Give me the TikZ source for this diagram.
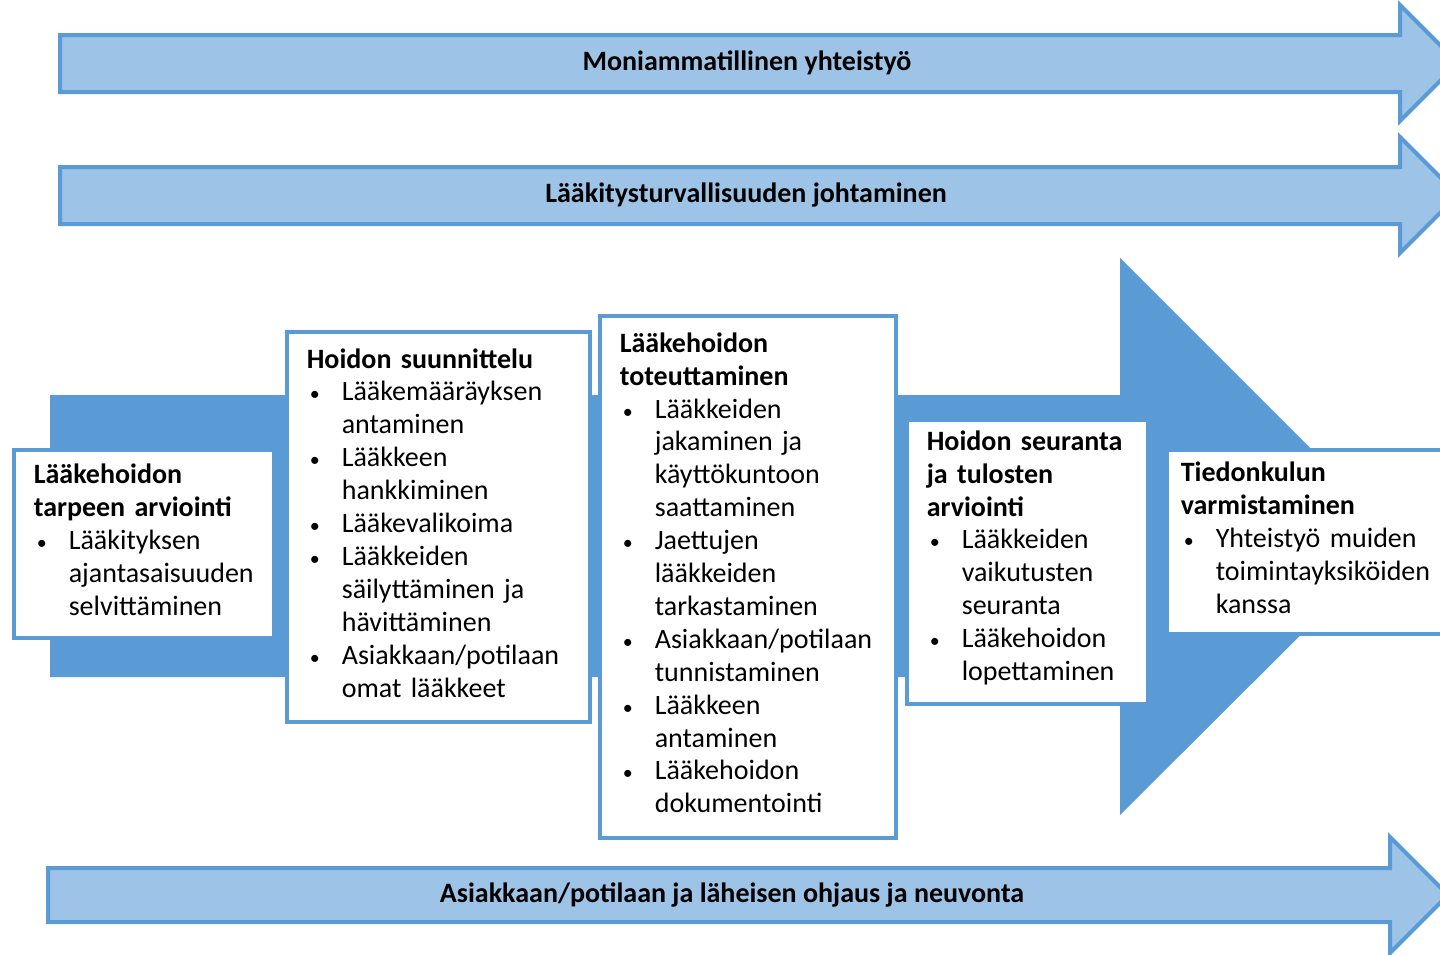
\documentclass[tikz,border=0pt]{standalone}
\usepackage{fontspec}
\setmainfont{Carlito}
\definecolor{darkblue}{HTML}{5B9BD5}
\definecolor{lightblue}{HTML}{9DC3E6}
\newcommand\bitem[1]{\par\hangindent=17.5pt\hangafter=1\noindent\makebox[17.5pt][l]{\hspace{1.5pt}{\fontsize{10}{10}\selectfont\textbullet}}{\let\\\newline #1}\par}
\tikzset{
  thinarrow/.style={fill=lightblue, draw=darkblue, line width=2pt, line join=miter},
  bigarrow/.style={fill=darkblue, draw=none},
  stagebox/.style={draw=darkblue, line width=1.8pt, fill=white, anchor=north west,
    align=left, inner xsep=10pt, inner ysep=0pt,
    font=\fontsize{14}{16.45}\selectfont,
    execute at end node={\par\vspace{4pt}}},
  arrowlabel/.style={font=\fontsize{14}{16.3}\selectfont\bfseries, inner sep=0pt}
}
\begin{document}
\begin{tikzpicture}[x=0.5pt,y=-0.5pt]
\useasboundingbox (0,0) rectangle (1440,954);
\clip (0,0) rectangle (1440,954);
\fill[white] (0,0) rectangle (1440,954);
% top arrows
\draw[thinarrow] (60,35) -- (1400,35) -- (1400,5) -- (1458,63) -- (1400,121) -- (1400,92) -- (60,92) -- cycle;
\node[arrowlabel] (a1) at (747,63) {Moniammatillinen yhteistyö};
\draw[thinarrow] (60,167) -- (1400,167) -- (1400,137) -- (1458,195) -- (1400,253) -- (1400,224) -- (60,224) -- cycle;
\node[arrowlabel] (a2) at (746,195) {Lääkitysturvallisuuden johtaminen};
% bottom arrow
\draw[thinarrow] (48,868) -- (1390,868) -- (1390,837) -- (1448,895) -- (1390,953) -- (1390,922) -- (48,922) -- cycle;
\node[arrowlabel] (a3) at (732,895) {Asiakkaan/potilaan ja läheisen ohjaus ja neuvonta};
% big arrow
\fill[bigarrow] (50,395) -- (1120,395) -- (1120,258) -- (1399,537) -- (1120,815) -- (1120,677) -- (50,677) -- cycle;
% boxes
\node[stagebox, text width=110pt, minimum width=130pt, minimum height=94pt] (b1) at (12,448)
 {{\bfseries Lääkehoidon\\tarpeen arviointi}\bitem{Lääkityksen\\ajantasaisuuden\\selvittäminen}};
\node[stagebox, text width=131.5pt, minimum width=151.5pt, minimum height=195pt] (b2) at (285,330)
 {{\bfseries Hoidon suunnittelu}\bitem{Lääkemääräyksen\\antaminen}\bitem{Lääkkeen\\hankkiminen}\bitem{Lääkevalikoima}\bitem{Lääkkeiden\\säilyttäminen ja\\hävittäminen}\bitem{Asiakkaan/potilaan\\omat lääkkeet}};
\node[stagebox, text width=128pt, minimum width=148pt, minimum height=261pt] (b3) at (598,314)
 {{\bfseries Lääkehoidon\\toteuttaminen}\bitem{Lääkkeiden\\jakaminen ja\\käyttökuntoon\\saattaminen}\bitem{Jaettujen\\lääkkeiden\\tarkastaminen}\bitem{Asiakkaan/potilaan\\tunnistaminen}\bitem{Lääkkeen\\antaminen}\bitem{Lääkehoidon\\dokumentointi}};
\node[stagebox, text width=100.5pt, minimum width=120.5pt, minimum height=142pt] (b4) at (905,418)
 {{\bfseries Hoidon seuranta\\ja tulosten\\arviointi}\bitem{Lääkkeiden\\vaikutusten\\seuranta}\bitem{Lääkehoidon\\lopettaminen}};
\node[stagebox, inner xsep=7pt, text width=136pt, minimum width=150pt, minimum height=92pt] (b5) at (1165,448)
 {{\bfseries Tiedonkulun\\varmistaminen}\bitem{Yhteistyö muiden\\toimintayksiköiden\\kanssa}};
\end{tikzpicture}
\end{document}
